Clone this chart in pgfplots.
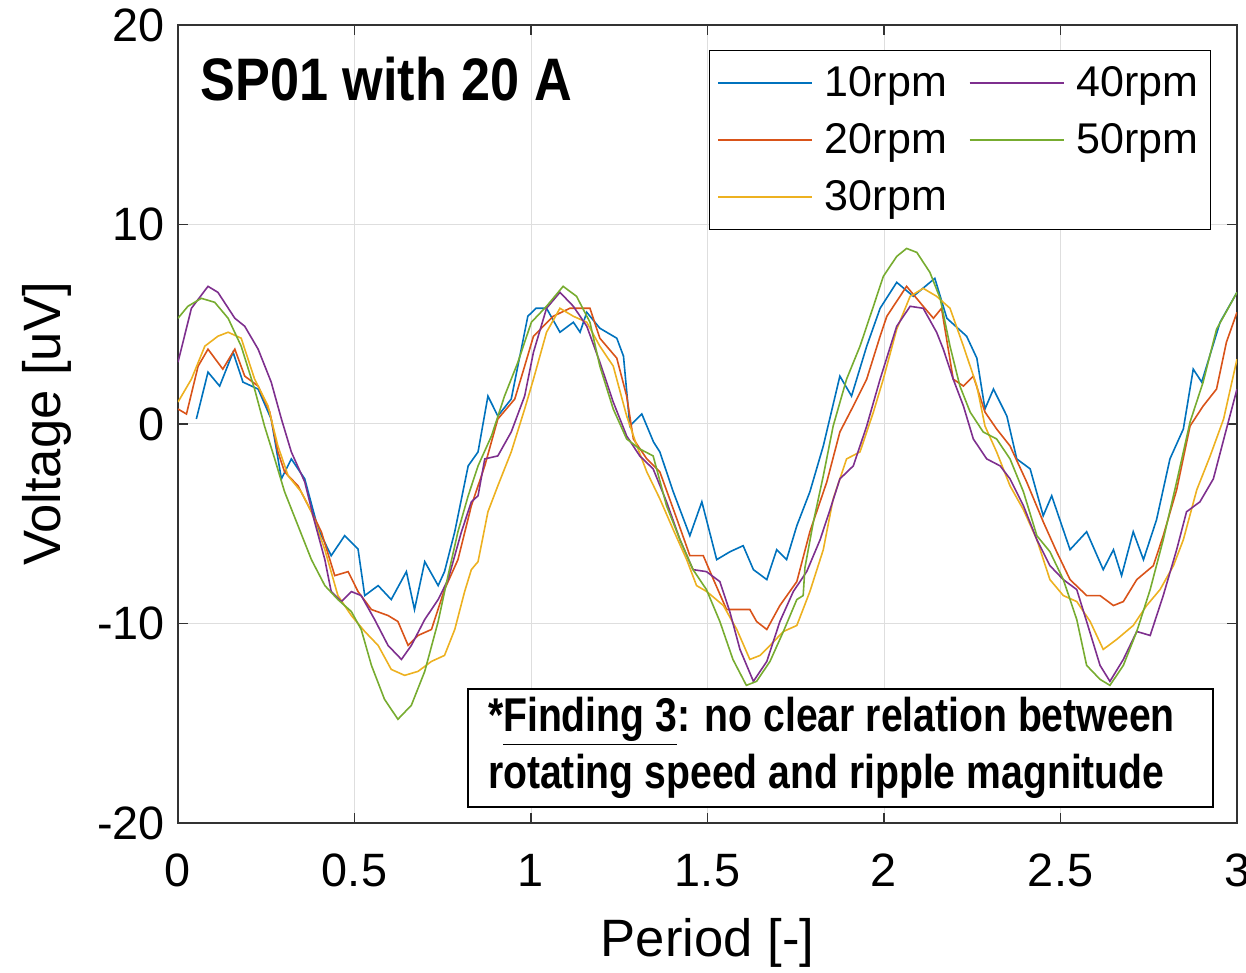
\documentclass[border=0pt]{standalone}
\usepackage{fontspec}
\setmainfont{Liberation Sans}
\newfontfamily\narrow[FakeStretch=0.826,BoldFont={Liberation Sans Bold}]{Liberation Sans}
\newfontfamily\narrowt[FakeStretch=0.87,BoldFont={Liberation Sans Bold}]{Liberation Sans}
\usepackage{pgfplots}
\pgfplotsset{compat=1.18}
\definecolor{mblue}{rgb}{0,0.447,0.741}
\definecolor{morange}{rgb}{0.85,0.325,0.098}
\definecolor{myellow}{rgb}{0.929,0.694,0.125}
\definecolor{mpurple}{rgb}{0.494,0.184,0.556}
\definecolor{mgreen}{rgb}{0.466,0.674,0.188}
\begin{document}
\begin{tikzpicture}
\begin{axis}[
  scale only axis, width=529.5pt, height=399pt,
  xmin=0, xmax=3, ymin=-20, ymax=20,
  xtick={0,0.5,1,1.5,2,2.5,3}, ytick={-20,-10,0,10,20},
  grid=major, grid style={black!13, line width=0.5pt},
  axis line style={black!80, line width=0.6pt},
  tick style={black!80, line width=0.6pt}, tick align=inside, major tick length=5pt,
  ticklabel style={font=\fontsize{23.4}{28}\selectfont},
  xticklabel style={yshift=-12pt},
  yticklabel style={xshift=-3pt},
  /pgf/number format/assume math mode=true,
  xlabel={Period [-]}, ylabel={Voltage [uV]},
  label style={font=\fontsize{26.3}{30}\selectfont},
  xlabel style={at={(axis description cs:0.5,-0.150)}, anchor=center},
  ylabel style={at={(axis description cs:-0.124,0.5)}, anchor=center},
  legend style={at={(rel axis cs:0.9754,0.9687)}, anchor=north east,
    font=\fontsize{21.5}{25}\selectfont, draw=black, line width=0.6pt, fill=white,
    row sep=8pt, inner xsep=4pt, inner ysep=6pt,
    /tikz/every even column/.append style={column sep=9pt}},
  legend cell align=left, transpose legend, legend columns=3,
  legend image code/.code={\draw[#1, line width=0.8pt] (0pt,0pt) -- (47pt,0pt); \path (51pt,0pt);},
  every axis plot/.append style={line width=0.8pt},
]
\addplot[mblue] coordinates {(0.052,0.25)(0.085,2.6)(0.118,1.9)(0.156,3.6)(0.184,2.1)(0.227,1.75)(0.264,0.25)(0.293,-2.75)(0.321,-1.75)(0.359,-2.75)(0.397,-5.26)(0.434,-6.6)(0.472,-5.6)(0.51,-6.27)(0.529,-8.6)(0.567,-8.1)(0.604,-8.8)(0.647,-7.4)(0.67,-9.3)(0.699,-6.9)(0.737,-8.1)(0.755,-7.4)(0.784,-5.4)(0.822,-2.1)(0.85,-1.4)(0.878,1.4)(0.906,0.4)(0.944,1.25)(0.991,5.4)(1.014,5.8)(1.044,5.8)(1.082,4.6)(1.12,5.1)(1.139,4.6)(1.158,5.6)(1.195,4.8)(1.243,4.3)(1.262,3.4)(1.28,-0.1)(1.314,0.5)(1.347,-0.9)(1.365,-1.4)(1.403,-3.4)(1.45,-5.6)(1.484,-3.9)(1.526,-6.8)(1.564,-6.4)(1.601,-6.1)(1.63,-7.3)(1.668,-7.8)(1.696,-6.3)(1.724,-6.8)(1.753,-5.1)(1.79,-3.4)(1.828,-1.1)(1.875,2.4)(1.908,1.4)(1.951,3.9)(1.989,5.8)(2.036,7.1)(2.083,6.4)(2.144,7.3)(2.178,5.3)(2.234,4.4)(2.263,3.3)(2.286,0.75)(2.31,1.75)(2.348,0.4)(2.376,-1.75)(2.414,-2.25)(2.451,-4.6)(2.475,-3.6)(2.527,-6.3)(2.574,-5.4)(2.621,-7.3)(2.65,-6.3)(2.673,-7.6)(2.706,-5.4)(2.735,-6.8)(2.772,-4.8)(2.81,-1.75)(2.848,-0.25)(2.876,2.75)(2.9,2.1)(2.952,5.1)(3.0,6.6)};
\addlegendentry{10rpm}
\addplot[morange] coordinates {(0,0.75)(0.024,0.5)(0.057,2.9)(0.085,3.75)(0.127,2.75)(0.161,3.75)(0.189,2.4)(0.227,1.9)(0.26,0.6)(0.283,-1.4)(0.302,-2.4)(0.34,-3.1)(0.378,-4.4)(0.406,-5.4)(0.444,-7.6)(0.482,-7.4)(0.51,-8.4)(0.548,-9.3)(0.595,-9.6)(0.623,-9.9)(0.652,-11.1)(0.68,-10.6)(0.718,-10.3)(0.755,-8.3)(0.793,-6.8)(0.831,-4.1)(0.869,-2.1)(0.906,0.25)(0.954,1.25)(0.982,2.9)(1.007,4.4)(1.063,5.4)(1.11,5.8)(1.167,5.8)(1.195,4.3)(1.243,3.3)(1.271,1.4)(1.29,-0.75)(1.328,-1.75)(1.365,-2.4)(1.413,-4.75)(1.45,-6.6)(1.488,-6.6)(1.517,-7.8)(1.554,-9.3)(1.592,-9.3)(1.62,-9.3)(1.639,-9.9)(1.668,-10.3)(1.705,-9.1)(1.753,-7.9)(1.79,-5.4)(1.838,-2.9)(1.875,-0.4)(1.913,0.9)(1.951,2.25)(1.989,4.4)(2.008,5.4)(2.064,6.9)(2.111,5.9)(2.14,5.3)(2.163,5.8)(2.196,2.25)(2.225,1.9)(2.253,2.4)(2.286,0.6)(2.319,-0.25)(2.357,-1.1)(2.404,-2.9)(2.451,-4.9)(2.489,-6.4)(2.527,-7.8)(2.574,-8.6)(2.612,-8.6)(2.65,-9.1)(2.678,-8.9)(2.716,-7.8)(2.763,-7.1)(2.791,-5.6)(2.829,-3.3)(2.867,-0.1)(2.904,0.9)(2.942,1.75)(2.97,4.1)(3.0,5.6)};
\addlegendentry{20rpm}
\addplot[myellow] coordinates {(0,1.1)(0.038,2.25)(0.076,3.9)(0.113,4.4)(0.142,4.6)(0.179,4.3)(0.217,2.25)(0.255,0.9)(0.283,-1.1)(0.312,-2.6)(0.349,-3.4)(0.378,-4.4)(0.416,-6.3)(0.453,-8.6)(0.491,-9.6)(0.529,-10.4)(0.567,-11.1)(0.604,-12.3)(0.642,-12.6)(0.68,-12.4)(0.718,-11.9)(0.755,-11.6)(0.784,-10.3)(0.812,-8.4)(0.831,-7.3)(0.85,-6.9)(0.878,-4.4)(0.906,-3.1)(0.944,-1.4)(0.982,0.75)(1.007,2.25)(1.044,4.6)(1.082,5.8)(1.12,5.4)(1.158,5.1)(1.195,3.9)(1.233,2.9)(1.271,0.4)(1.3,-1.1)(1.328,-2.4)(1.365,-3.75)(1.403,-5.3)(1.441,-6.8)(1.469,-8.1)(1.498,-8.4)(1.545,-9.1)(1.583,-10.3)(1.62,-11.8)(1.649,-11.6)(1.677,-11.1)(1.715,-10.4)(1.753,-10.1)(1.79,-8.4)(1.828,-6.3)(1.856,-3.75)(1.894,-1.75)(1.932,-1.4)(1.97,0.6)(1.998,2.25)(2.036,4.75)(2.074,6.4)(2.111,6.8)(2.149,6.4)(2.187,5.8)(2.225,3.9)(2.263,1.9)(2.286,-0.1)(2.319,-1.4)(2.357,-3.1)(2.395,-4.3)(2.433,-5.8)(2.47,-7.8)(2.508,-8.6)(2.546,-8.9)(2.584,-9.9)(2.621,-11.3)(2.659,-10.8)(2.706,-10.1)(2.744,-9.1)(2.782,-8.3)(2.82,-7.1)(2.848,-5.8)(2.886,-3.3)(2.924,-1.6)(2.962,0.25)(3.0,3.25)};
\addlegendentry{30rpm}
\addplot[mpurple] coordinates {(0,3.1)(0.038,5.8)(0.085,6.9)(0.113,6.6)(0.161,5.3)(0.189,4.9)(0.227,3.75)(0.264,2.1)(0.293,0.25)(0.321,-1.4)(0.359,-2.9)(0.387,-4.9)(0.416,-6.8)(0.434,-8.4)(0.463,-8.9)(0.491,-8.4)(0.519,-8.6)(0.557,-9.8)(0.595,-11.1)(0.633,-11.8)(0.661,-11.1)(0.699,-9.8)(0.737,-8.8)(0.765,-7.8)(0.803,-5.4)(0.831,-3.9)(0.85,-3.6)(0.869,-1.75)(0.906,-1.6)(0.944,-0.4)(0.982,1.4)(1.007,3.6)(1.044,5.8)(1.082,6.6)(1.12,5.9)(1.158,4.9)(1.195,3.1)(1.233,1.1)(1.271,-0.6)(1.308,-1.6)(1.346,-2.25)(1.384,-3.9)(1.422,-5.8)(1.459,-7.3)(1.497,-7.4)(1.535,-7.9)(1.563,-9.4)(1.592,-11.3)(1.63,-12.9)(1.668,-11.9)(1.705,-9.9)(1.743,-8.4)(1.781,-7.4)(1.819,-5.8)(1.847,-4.3)(1.875,-2.75)(1.913,-2.1)(1.951,-0.1)(1.989,2.25)(2.036,4.9)(2.074,5.9)(2.111,5.8)(2.149,4.6)(2.168,3.75)(2.196,2.25)(2.225,0.9)(2.253,-0.75)(2.291,-1.75)(2.329,-2.1)(2.357,-2.75)(2.395,-4.1)(2.433,-5.8)(2.47,-7.1)(2.508,-7.8)(2.546,-8.3)(2.574,-9.9)(2.612,-12.1)(2.64,-12.9)(2.678,-11.8)(2.716,-10.4)(2.754,-10.6)(2.791,-8.6)(2.829,-6.3)(2.857,-4.4)(2.895,-3.9)(2.933,-2.75)(2.97,-0.25)(3.0,1.75)};
\addlegendentry{40rpm}
\addplot[mgreen] coordinates {(0,5.3)(0.028,5.9)(0.066,6.3)(0.104,6.1)(0.142,5.3)(0.179,3.9)(0.217,1.75)(0.245,-0.1)(0.274,-1.75)(0.302,-3.4)(0.34,-5.1)(0.378,-6.8)(0.416,-8.1)(0.453,-8.8)(0.491,-9.4)(0.519,-10.3)(0.548,-12.1)(0.585,-13.8)(0.623,-14.8)(0.661,-14.1)(0.699,-12.4)(0.737,-9.9)(0.765,-7.6)(0.793,-5.4)(0.822,-3.6)(0.85,-2.1)(0.888,-0.6)(0.925,1.4)(0.963,3.1)(1.001,5.1)(1.044,5.9)(1.091,6.9)(1.129,6.4)(1.167,5.1)(1.195,2.9)(1.233,0.75)(1.271,-0.75)(1.308,-1.25)(1.346,-1.6)(1.384,-4.1)(1.422,-5.8)(1.459,-7.3)(1.497,-8.3)(1.535,-9.9)(1.572,-11.8)(1.61,-13.1)(1.639,-12.9)(1.677,-11.9)(1.715,-10.4)(1.753,-8.8)(1.771,-8.6)(1.776,-7.2)(1.80,-4.9)(1.828,-2.6)(1.856,-0.1)(1.894,2.25)(1.932,3.9)(1.97,5.9)(1.998,7.4)(2.036,8.4)(2.064,8.8)(2.093,8.6)(2.13,7.6)(2.159,6.3)(2.187,3.9)(2.215,1.9)(2.244,0.6)(2.281,-0.4)(2.319,-0.75)(2.357,-1.75)(2.395,-3.4)(2.433,-5.6)(2.47,-6.4)(2.508,-7.8)(2.546,-9.8)(2.574,-12.1)(2.612,-12.8)(2.64,-13.1)(2.678,-12.1)(2.716,-10.4)(2.754,-8.3)(2.791,-5.8)(2.829,-2.9)(2.867,0.1)(2.904,2.1)(2.942,4.75)(3.0,6.6)};
\addlegendentry{50rpm}
\node[anchor=west, font=\narrowt\bfseries\fontsize{30}{34}\selectfont, inner sep=0pt]
  at (rel axis cs:0.021,0.932) {SP01 with 20 A};
\node[anchor=north west, draw=black, line width=1pt, fill=white, align=left,
  minimum width=371.5pt, minimum height=59pt, inner xsep=10pt, inner ysep=2pt,
  font=\narrow\bfseries\fontsize{23.7}{28.5}\selectfont]
  at (rel axis cs:0.2729,0.1692) {*\underline{Finding 3}: no clear relation between\hspace*{9pt}\\rotating speed and ripple magnitude};
\end{axis}
\pgfresetboundingbox
\path[use as bounding box] ([shift={(-89pt,-75pt)}]current axis.south west) rectangle ([shift={(4.5pt,12.5pt)}]current axis.north east);
\end{tikzpicture}
\end{document}
